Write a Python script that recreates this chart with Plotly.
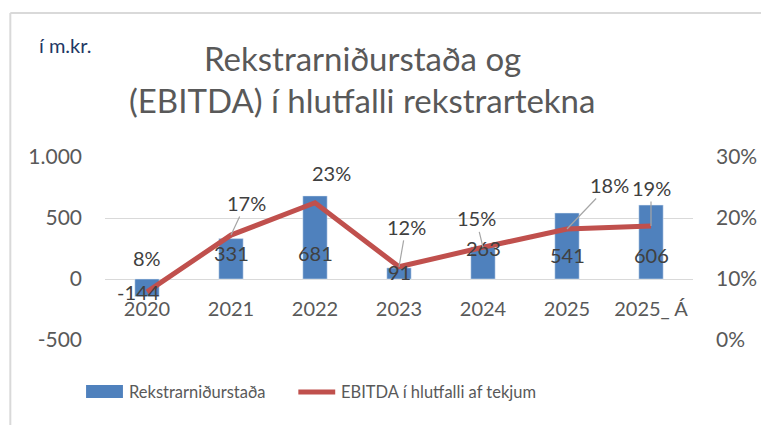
import plotly.graph_objects as go

categories = ["2020", "2021", "2022", "2023", "2024", "2025", "2025_ Á"]
rekstur = [-144, 331, 681, 91, 263, 541, 606]
ebitda_pct = [0.079, 0.172, 0.225, 0.120, 0.152, 0.182, 0.187]
ebitda_labels = ["8%", "17%", "23%", "12%", "15%", "18%", "19%"]
left_ticks = [-500, 0, 500, 1000]
left_ticktext = ["-500", "0", "500", "1.000"]
right_ticks = [0, 0.1, 0.2, 0.3]
right_ticktext = ["0%", "10%", "20%", "30%"]

# label offsets (pixels) - styling only
bar_label_dy = [-13, 26, 26, 7, 31, 24, 24]
bar_label_dx = [-9, 0, 0, 0, 0, 0, 0]
pct_ax = [0, 15, 16, 7, -7, 42, 0]
pct_ay = [-34, -32, -30, -40, -29, -44, -38]
pct_arrow = [False, True, False, True, True, True, True]

OFF = 8  # page body margin
W, H = 769 - OFF, 425 - OFF
L, R, T, B = 105, 695, 157, 340  # plot area in window pixels
FONT = "Lato, Calibri, 'Open Sans', sans-serif"
GREY = "#595959"

def px(x):
    return (x - L) / (R - L)

def py(y):
    return (B - y) / (B - T)

fig = go.Figure()
fig.add_trace(go.Bar(x=categories, y=rekstur, name="Rekstrarniðurstaða",
                     marker_color="#4F81BD", width=0.29, yaxis="y",
                     showlegend=False))
fig.add_trace(go.Scatter(x=categories, y=ebitda_pct, name="EBITDA í hlutfalli af tekjum",
                         mode="lines", line=dict(color="#C0504D", width=5),
                         yaxis="y2", showlegend=False))

ann = []
for i, c in enumerate(categories):
    ann.append(dict(x=i, y=0, xref="x", yref="y", text=f"{rekstur[i]}",
                    showarrow=False, yshift=bar_label_dy[i], xshift=bar_label_dx[i],
                    font=dict(family=FONT, size=20, color="#404040")))
for i, c in enumerate(categories):
    if pct_arrow[i]:
        ann.append(dict(x=i, y=ebitda_pct[i], xref="x", yref="y2", text=ebitda_labels[i],
                        showarrow=True, arrowhead=0, arrowwidth=1.2, arrowcolor="#A6A6A6",
                        ax=pct_ax[i], ay=pct_ay[i], standoff=0,
                        font=dict(family=FONT, size=20, color="#404040")))
    else:
        ann.append(dict(x=i, y=ebitda_pct[i], xref="x", yref="y2", text=ebitda_labels[i],
                        showarrow=False, xshift=pct_ax[i], yshift=-pct_ay[i],
                        font=dict(family=FONT, size=20, color="#404040")))

# unit label
ann.append(dict(x=px(37), y=py(45), xref="paper", yref="paper", text="í m.kr.",
                showarrow=False, xanchor="left", yanchor="middle",
                font=dict(family=FONT, size=20, color="#1F3864")))
# title lines
ann.append(dict(x=px(363), y=py(58), xref="paper", yref="paper", text="Rekstrarniðurstaða og",
                showarrow=False, xanchor="center", yanchor="middle",
                font=dict(family=FONT, size=33, color=GREY)))
ann.append(dict(x=px(363), y=py(100), xref="paper", yref="paper",
                text="(EBITDA) í hlutfalli rekstrartekna",
                showarrow=False, xanchor="center", yanchor="middle",
                font=dict(family=FONT, size=33, color=GREY)))
# legend texts
ann.append(dict(x=px(127), y=py(392), xref="paper", yref="paper", text="Rekstrarniðurstaða",
                showarrow=False, xanchor="left", yanchor="middle",
                font=dict(family=FONT, size=16.5, color=GREY)))
ann.append(dict(x=px(340), y=py(392), xref="paper", yref="paper",
                text="EBITDA í hlutfalli af tekjum",
                showarrow=False, xanchor="left", yanchor="middle",
                font=dict(family=FONT, size=16.5, color=GREY)))

shapes = [
    dict(type="line", xref="paper", yref="paper", x0=px(10), x1=px(800), y0=py(13), y1=py(13),
         line=dict(color="#D9D9D9", width=2)),
    dict(type="line", xref="paper", yref="paper", x0=px(10), x1=px(10), y0=py(13), y1=py(440),
         line=dict(color="#D9D9D9", width=2)),
    dict(type="rect", xref="paper", yref="paper", x0=px(86), x1=px(123), y0=py(385), y1=py(398),
         fillcolor="#4F81BD", line=dict(width=0)),
    dict(type="line", xref="paper", yref="paper", x0=px(299), x1=px(336), y0=py(392), y1=py(392),
         line=dict(color="#C0504D", width=5)),
]

fig.update_layout(
    width=W, height=H,
    margin=dict(l=L - OFF, r=769 - R, t=T - OFF, b=425 - B),
    paper_bgcolor="white", plot_bgcolor="white",
    font=dict(family=FONT, size=20, color=GREY),
    xaxis=dict(type="category", anchor="free", position=1/3, showline=False,
               showgrid=False, ticks="", tickfont=dict(family=FONT, size=20, color=GREY),
               ticklabelstandoff=16, range=[-0.5, 6.5]),
    yaxis=dict(range=[-500, 1000], tickvals=left_ticks, ticktext=left_ticktext,
               showgrid=True, gridcolor="#D9D9D9", gridwidth=1, zeroline=False,
               ticks="", ticklabelstandoff=22,
               tickfont=dict(family=FONT, size=21, color=GREY)),
    yaxis2=dict(range=[0, 0.3], tickvals=right_ticks, ticktext=right_ticktext,
                overlaying="y", side="right", showgrid=False, zeroline=False,
                ticks="", ticklabelstandoff=22,
                tickfont=dict(family=FONT, size=21, color=GREY)),
    annotations=ann,
    shapes=shapes,
    showlegend=False,
)

fig.write_html("out.html")
